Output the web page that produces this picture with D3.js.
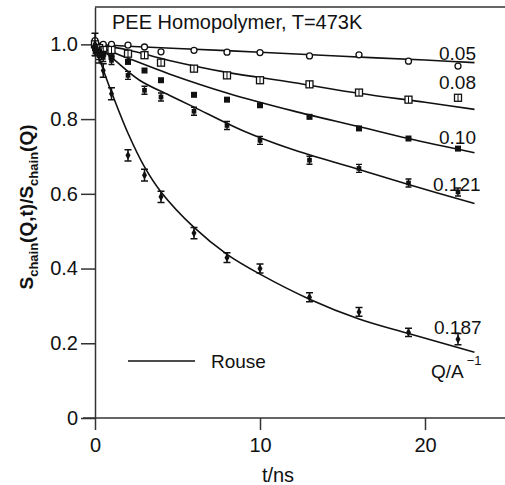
<!DOCTYPE html>
<html>
<head>
<script src="https://cdnjs.cloudflare.com/ajax/libs/d3/7.8.5/d3.min.js"></script>
<style>
  body { margin: 0; background: #fff; }
  text { font-family: "Liberation Sans", Arial, sans-serif; fill: #111; }
</style>
</head>
<body>
<script>
// measured times (ns)
const times = [0, 0.25, 0.5, 1, 2, 3, 4, 6, 8, 10, 13, 16, 19, 22];
const q005 = [1.01, 0.995, 1.0, 1.0, 0.998, 0.993, 0.98, 0.984, 0.979, 0.978, 0.969, 0.972, 0.955, 0.942];
const q008 = [1.0, 0.99, 0.985, 0.985, 0.975, 0.971, 0.951, 0.935, 0.917, 0.904, 0.893, 0.871, 0.852, 0.857];
const q010 = [0.99, 0.98, 0.975, 0.966, 0.953, 0.93, 0.904, 0.865, 0.852, 0.837, 0.806, 0.775, 0.748, 0.721];
const q0121 = [0.98, 0.97, 0.965, 0.957, 0.917, 0.877, 0.859, 0.821, 0.783, 0.743, 0.69, 0.668, 0.629, 0.605];
const q0187 = [1.0, 0.97, 0.93, 0.868, 0.703, 0.65, 0.592, 0.495, 0.429, 0.40, 0.323, 0.284, 0.229, 0.211];
const err0187 = [0.03, 0.02, 0.018, 0.016, 0.015, 0.016, 0.015, 0.015, 0.013, 0.012, 0.012, 0.012, 0.011, 0.015];

// Rouse curves
const rouse005 = [[0, 1.0], [2, 0.995], [5, 0.989], [10, 0.979], [15, 0.968], [20, 0.958], [23, 0.951]];
const rouse008 = [[0, 1.0], [2, 0.985], [4.5, 0.957], [8, 0.925], [12, 0.898], [16, 0.869], [20, 0.845], [23, 0.826]];
const rouse010 = [[0, 1.0], [1, 0.98], [2, 0.963], [4.5, 0.921], [8, 0.87], [12, 0.822], [16, 0.78], [19, 0.748], [23, 0.71]];
const rouse0121 = [[0, 1.0], [1, 0.965], [2.7, 0.904], [4.5, 0.864], [6, 0.832], [8.9, 0.77], [11.8, 0.721], [16, 0.665], [19, 0.625], [23, 0.574]];
const rouse0187 = [[0, 1.0], [0.5, 0.932], [1, 0.872], [2, 0.762], [3, 0.672], [4, 0.605], [6, 0.51], [8, 0.438], [10, 0.385], [13, 0.318], [16, 0.265], [19, 0.226], [23, 0.176]];

const qLabels = ["0.05", "0.08", "0.10", "0.121", "0.187"];
const xTicks = [0, 10, 20];
const yTicks = [0, 0.2, 0.4, 0.6, 0.8, 1.0];

const w = 505, h = 485;
const x = d3.scaleLinear().domain([0, 25]).range([95, 507.5]);
const y = d3.scaleLinear().domain([0, 1.1]).range([418, 7]);

const svg = d3.select("body").append("svg").attr("width", w).attr("height", h);

// frame top
svg.append("line").attr("x1", x(0)).attr("x2", w).attr("y1", y(1.1)).attr("y2", y(1.1))
  .attr("stroke", "#333").attr("stroke-width", 1.5);

const xAxis = svg.append("g").attr("transform", "translate(0," + y(0) + ")")
  .call(d3.axisBottom(x).tickValues(xTicks).tickFormat(d3.format("d")).tickSize(12).tickSizeOuter(0).tickPadding(8));
const yAxis = svg.append("g").attr("transform", "translate(" + x(0) + ",0)")
  .call(d3.axisLeft(y).tickValues(yTicks).tickFormat(d => d === 0 ? "0" : d3.format(".1f")(d)).tickSize(14).tickSizeOuter(0).tickPadding(3));
[xAxis, yAxis].forEach(g => {
  g.select(".domain").attr("stroke", "#333").attr("stroke-width", 1.5);
  g.selectAll(".tick line").attr("stroke", "#333").attr("stroke-width", 1.5);
  g.selectAll("text").style("font-family", "Liberation Sans, Arial, sans-serif").attr("font-size", 20).attr("fill", "#111");
});
xAxis.select(".domain").attr("d", "M83,0H" + w);

// Rouse lines
const line = d3.line().x(d => x(d[0])).y(d => y(d[1])).curve(d3.curveCatmullRom.alpha(0.5));
[rouse005, rouse008, rouse010, rouse0121, rouse0187].forEach(c => {
  svg.append("path").attr("d", line(c)).attr("fill", "none").attr("stroke", "#111").attr("stroke-width", 1.6);
});

// data markers
const pts = arr => times.map((t, i) => ({ t: t, v: arr[i] }));

svg.append("g").selectAll("circle").data(pts(q005)).enter().append("circle")
  .attr("cx", d => x(d.t)).attr("cy", d => y(d.v)).attr("r", 3)
  .attr("fill", "#fff").attr("stroke", "#111").attr("stroke-width", 1.3);

svg.append("g").selectAll("rect").data(pts(q008)).enter().append("rect")
  .attr("x", d => x(d.t) - 3.5).attr("y", d => y(d.v) - 3.5).attr("width", 7).attr("height", 7)
  .attr("fill", "#fff").attr("stroke", "#111").attr("stroke-width", 1.3);
svg.append("g").selectAll("line").data(pts(q008)).enter().append("line")
  .attr("x1", d => x(d.t)).attr("x2", d => x(d.t)).attr("y1", d => y(d.v) - 3.5).attr("y2", d => y(d.v) + 3.5)
  .attr("stroke", "#111").attr("stroke-width", 1);

svg.append("g").selectAll("rect").data(pts(q010)).enter().append("rect")
  .attr("x", d => x(d.t) - 3).attr("y", d => y(d.v) - 3).attr("width", 6).attr("height", 6)
  .attr("fill", "#111");

const hourglass = d3.symbol().type(d3.symbolSquare).size(22);
svg.append("g").selectAll("path").data(pts(q0121)).enter().append("path")
  .attr("d", hourglass).attr("transform", d => "translate(" + x(d.t) + "," + y(d.v) + ")")
  .attr("fill", "#111");
svg.append("g").selectAll("path").data(pts(q0121)).enter().append("path")
  .attr("d", d => {
    const cx = x(d.t), cy = y(d.v);
    return "M" + (cx - 3) + "," + (cy - 4) + "h6M" + (cx - 3) + "," + (cy + 4) + "h6M" + cx + "," + (cy - 4) + "v8";
  })
  .attr("stroke", "#111").attr("stroke-width", 1.4).attr("fill", "none");

const p187 = times.map((t, i) => ({ t: t, v: q0187[i], e: err0187[i] }));
svg.append("g").selectAll("path").data(p187).enter().append("path")
  .attr("d", d => {
    const cx = x(d.t), y1 = y(d.v + d.e), y2 = y(d.v - d.e);
    return "M" + (cx - 3.5) + "," + y1 + "h7M" + (cx - 3.5) + "," + y2 + "h7M" + cx + "," + y1 + "V" + y2;
  })
  .attr("stroke", "#111").attr("stroke-width", 1.5).attr("fill", "none");
svg.append("g").selectAll("path").data(p187).enter().append("path")
  .attr("d", d3.symbol().type(d3.symbolDiamond).size(22))
  .attr("transform", d => "translate(" + x(d.t) + "," + y(d.v) + ")")
  .attr("fill", "#111");

// Q labels
const labelPos = [[439, 60], [439, 89], [439, 144], [433, 191], [434, 334]];
qLabels.forEach((q, i) => {
  svg.append("text").attr("x", labelPos[i][0]).attr("y", labelPos[i][1]).attr("font-size", 19).text(q);
});
const qa = svg.append("text").attr("x", 431).attr("y", 378).attr("font-size", 19);
qa.append("tspan").text("Q/A");
qa.append("tspan").attr("dx", 3).attr("dy", -13).attr("font-size", 13).text("\u22121");

// title
svg.append("text").attr("x", 112).attr("y", 29).attr("font-size", 20).text("PEE Homopolymer, T=473K");

// legend
svg.append("line").attr("x1", 128).attr("x2", 195).attr("y1", 361).attr("y2", 361)
  .attr("stroke", "#111").attr("stroke-width", 1.6);
svg.append("text").attr("x", 211).attr("y", 368).attr("font-size", 19).text("Rouse");

// axis titles
svg.append("text").attr("x", 278).attr("y", 482).attr("text-anchor", "middle").attr("font-size", 20).text("t/ns");
const yl = svg.append("text").attr("transform", "translate(33,207) rotate(-90)")
  .attr("text-anchor", "middle").attr("font-size", 19).attr("font-weight", "bold");
yl.append("tspan").text("S");
yl.append("tspan").attr("font-size", 13).attr("dy", 5).text("chain");
yl.append("tspan").attr("dy", -5).text("(Q,t)/S");
yl.append("tspan").attr("font-size", 13).attr("dy", 5).text("chain");
yl.append("tspan").attr("dy", -5).text("(Q)");
</script>
</body>
</html>
